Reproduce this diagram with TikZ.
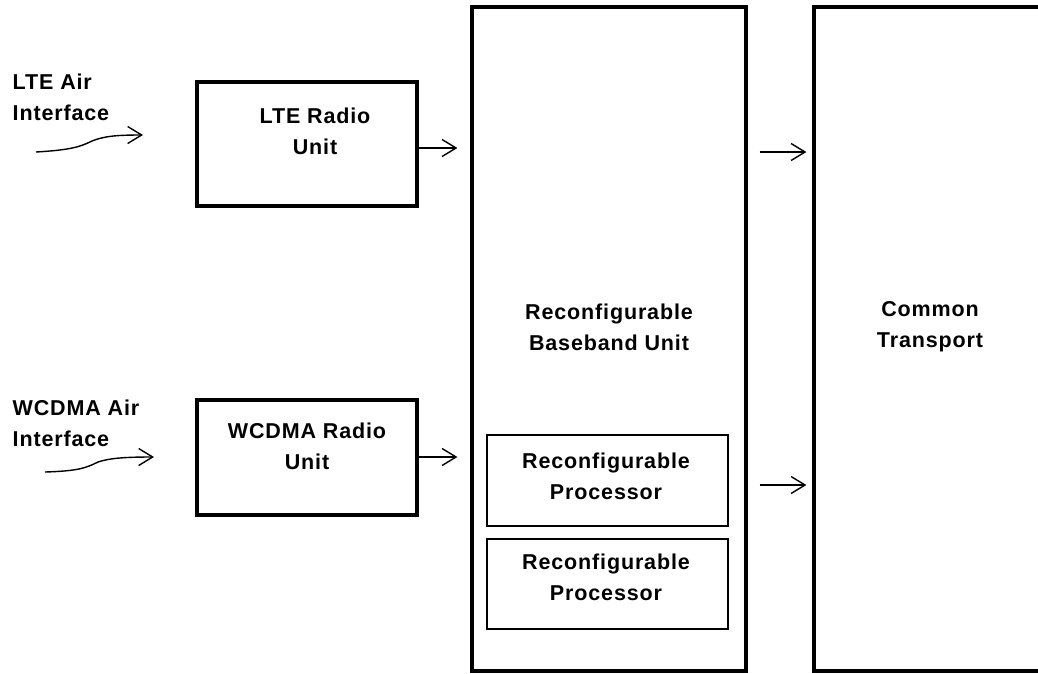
\documentclass[tikz,border=0pt]{standalone}
\usepackage{fontspec}
\setmainfont{Liberation Sans}[LetterSpace=4]
\usepackage{tikz}
\usetikzlibrary{arrows.meta}
\tikzset{every picture/.style={line width=1.4pt}}

\begin{document}
\begin{tikzpicture}[x=1pt,y=-1pt,
 every node/.style={font=\bfseries\fontsize{21.5}{31}\selectfont},
 frame/.style={draw,line width=3.2pt,inner sep=0pt},
 subframe/.style={draw,line width=1.7pt,inner sep=0pt},
 txt/.style={align=center,inner sep=0pt},
 flow/.style={-{Straight Barb[length=14pt,width=17pt]},line width=1.4pt}]
 \clip (0,0) rectangle (1038,673);
 \fill[white] (0,0) rectangle (1038,673);

 % Radio units on the left, fed by the air interfaces.
 \node[frame,minimum width=220pt,minimum height=124pt] (lteru) at (307,144) {};
 \node[txt] (lterutxt) at (315,131) {LTE Radio\\Unit};
 \node[frame,minimum width=220pt,minimum height=115pt] (wcdmaru) at (307,457.5) {};
 \node[txt] (wcdmarutxt) at (307,446) {WCDMA Radio\\Unit};

 \node[align=left,anchor=west,inner sep=0pt] (lteair) at (12,97) {LTE Air\\Interface};
 \node[align=left,anchor=west,inner sep=0pt] (wcdmaair) at (12,423) {WCDMA Air\\Interface};
 \coordinate (ltewave0) at (36,152);
 \coordinate (ltewave1) at (143,135);
 \coordinate (wcdmawave0) at (45,472);
 \coordinate (wcdmawave1) at (154,457);
 \draw[flow] (ltewave0) .. controls (70,150) and (80,147) .. (92,141)
  .. controls (104,136) and (118,135) .. (ltewave1);
 \draw[flow] (wcdmawave0) .. controls (78,471) and (86,468) .. (98,462)
  .. controls (110,458) and (126,457) .. (wcdmawave1);

 % The baseband unit with its two processors.
 \node[frame,minimum width=274pt,minimum height=664pt] (bbu) at (609,339) {};
 \node[txt] (bbutxt) at (609,327) {Reconfigurable\\Baseband Unit};
 \node[subframe,minimum width=241pt,minimum height=91pt] (proc1) at (607.5,480.5) {};
 \node[txt] (proc1txt) at (606,476) {Reconfigurable\\Processor};
 \node[subframe,minimum width=241pt,minimum height=90pt] (proc2) at (607.5,584) {};
 \node[txt] (proc2txt) at (606,577) {Reconfigurable\\Processor};

 % Transport, cut by the right border.
 \node[frame,minimum width=246pt,minimum height=664pt] (ctu) at (937,339) {};
 \node[txt] (ctutxt) at (930,327) {Common\\Transport};

 \coordinate (row1) at (0,148);
 \coordinate (row2) at (0,457);
 \coordinate (row3) at (0,152);
 \coordinate (row4) at (0,485);
 \draw[flow,shorten >=13pt] (lteru.east |- row1) -- (bbu.west |- row1);
 \draw[flow,shorten >=13pt] (wcdmaru.east |- row2) -- (bbu.west |- row2);
 \draw[flow,shorten <=12pt,shorten >=6pt] (bbu.east |- row3) -- (ctu.west |- row3);
 \draw[flow,shorten <=12pt,shorten >=6pt] (bbu.east |- row4) -- (ctu.west |- row4);
\end{tikzpicture}
\end{document}
